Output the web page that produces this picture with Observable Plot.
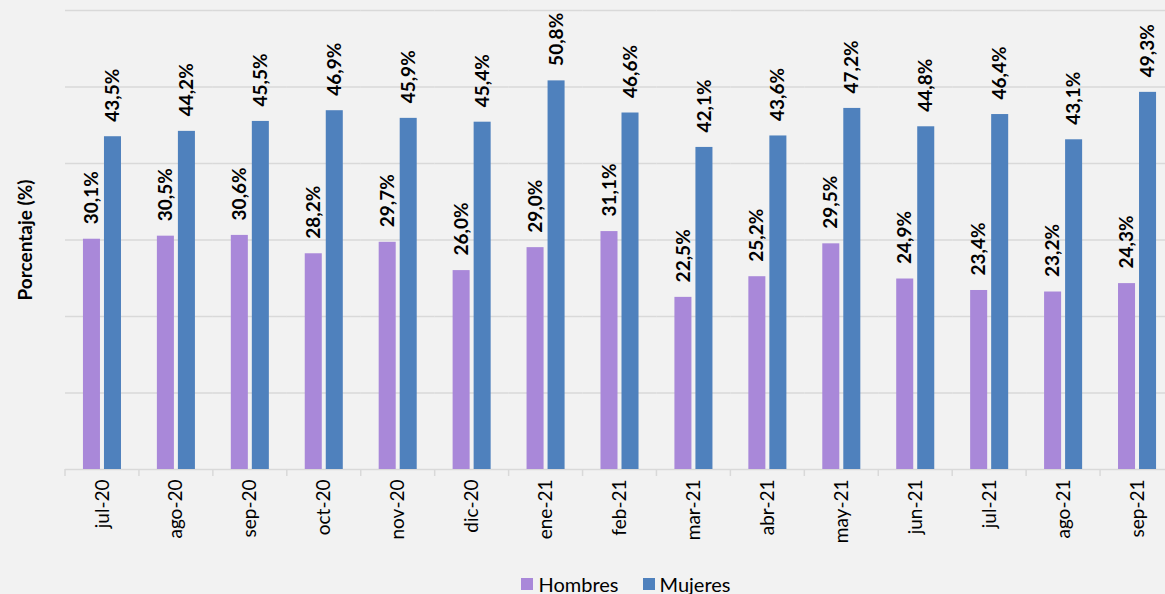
<!DOCTYPE html>
<html>
<head>
<meta charset="utf-8">
<script src="https://cdn.jsdelivr.net/npm/d3@7"></script>
<script src="https://cdn.jsdelivr.net/npm/@observablehq/plot@0.6"></script>
<style>
  html, body { margin: 0; padding: 0; background: #f2f2f2; overflow: hidden; width: 1165px; height: 594px; }
  #chart svg { display: block; }
  #legend { width: 1165px; box-sizing: border-box; padding-left: 87px; padding-top: 3px; display: flex; justify-content: center; align-items: center; height: 24px; font-family: Lato, "Noto Sans", sans-serif; font-size: 20px; color: #000; gap: 24px; }
  .item { display: flex; align-items: center; gap: 5px; }
  .sw { width: 12px; height: 12px; display: inline-block; }
</style>
</head>
<body>
<div id="chart"></div>
<div id="legend"></div>
<script>
const months = ["jul-20","ago-20","sep-20","oct-20","nov-20","dic-20","ene-21","feb-21","mar-21","abr-21","may-21","jun-21","jul-21","ago-21","sep-21"];
const hombres = [30.1, 30.5, 30.6, 28.2, 29.7, 26.0, 29.0, 31.1, 22.5, 25.2, 29.5, 24.9, 23.4, 23.2, 24.3];
const mujeres = [43.5, 44.2, 45.5, 46.9, 45.9, 45.4, 50.8, 46.6, 42.1, 43.6, 47.2, 44.8, 46.4, 43.1, 49.3];
const series = ["Hombres", "Mujeres"];
const colors = ["#a988d9", "#4f81bd"];
const gridValues = [0, 10, 20, 30, 40, 50, 60];
const yTitle = "Porcentaje (%)";

const data = months.flatMap((m, i) => [
  {month: m, sex: "Hombres", value: hombres[i]},
  {month: m, sex: "Mujeres", value: mujeres[i]}
]);
const fmt = v => v.toFixed(1).replace(".", ",") + "%";

const plot = Plot.plot({
  width: 1165,
  height: 570,
  marginTop: 10,
  marginBottom: 101,
  marginLeft: 65,
  marginRight: -9,
  style: {background: "#f2f2f2", fontFamily: "Lato, 'Noto Sans', sans-serif", fontSize: "19px", color: "#000"},
  facet: {data, x: "month"},
  fx: {domain: months, padding: 0, round: false, label: null, tickRotate: -90, tickSize: 0, tickPadding: 10, axis: "bottom"},
  x: {domain: series, axis: null, round: false, paddingInner: 0.19, paddingOuter: 0.854},
  y: {domain: [0, 60], axis: "left", ticks: [], tickSize: 0, label: yTitle, labelAnchor: "center", labelOffset: 47},
  color: {domain: series, range: colors},
  marks: [
    Plot.ruleY(gridValues, {stroke: "#d9d9d9", strokeWidth: 1.5}),
    Plot.barY(data, {x: "sex", y: "value", fill: "sex"}),
    Plot.text(data, {x: "sex", y: "value", text: d => fmt(d.value), rotate: -90, textAnchor: "start", dy: -15, fontWeight: "bold", fontSize: 19, fill: "#000"})
  ]
});

// boundary ticks under the baseline, positioned from the fx and y scales
const fxs = plot.scale("fx");
const ys = plot.scale("y");
const y0 = ys.apply(0);
const bounds = months.map(m => fxs.apply(m));
bounds.push(fxs.apply(months[months.length - 1]) + fxs.bandwidth);
const svg = d3.select(plot);
svg.append("g").selectAll("line").data(bounds).join("line")
  .attr("x1", d => d).attr("x2", d => d)
  .attr("y1", y0).attr("y2", y0 + 7)
  .attr("stroke", "#d9d9d9").attr("stroke-width", 1.5);
svg.selectAll("text").filter(function() { return this.textContent.startsWith("Porcentaje"); })
  .text(yTitle)
  .attr("font-weight", "bold").attr("font-size", 19);

document.getElementById("chart").appendChild(plot);

const legend = d3.select("#legend");
series.forEach((s, i) => {
  const it = legend.append("div").attr("class", "item");
  it.append("span").attr("class", "sw").style("background", colors[i]);
  it.append("span").text(s);
});
</script>
</body>
</html>
